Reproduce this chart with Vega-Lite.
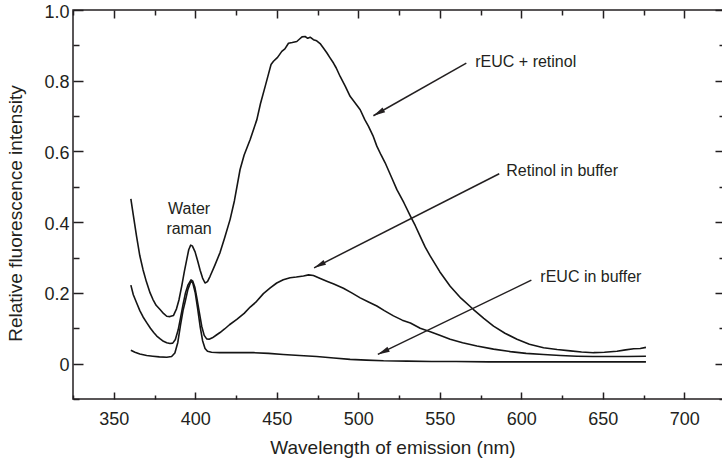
{
  "$schema": "https://vega.github.io/schema/vega-lite/v6.json",
  "width": 652,
  "height": 389,
  "autosize": {"type": "none"},
  "padding": {"left": 73, "top": 10, "right": 0, "bottom": 64},
  "background": "white",
  "config": {
    "font": "Liberation Sans",
    "view": {"stroke": "#231f20", "strokeWidth": 1.5},
    "axis": {
      "domain": false,
      "grid": false,
      "tickColor": "#231f20",
      "tickWidth": 1.5,
      "labelColor": "#231f20",
      "labelFontSize": 18,
      "labelOverlap": false,
      "titleColor": "#231f20",
      "titleFontSize": 19,
      "titleFontWeight": "normal"
    }
  },
  "datasets": {
    "spectra": [
      {"s": "rEUC + retinol", "nm": 360.5, "v": 0.466},
      {"s": "rEUC + retinol", "nm": 362, "v": 0.42},
      {"s": "rEUC + retinol", "nm": 364, "v": 0.36},
      {"s": "rEUC + retinol", "nm": 366, "v": 0.305},
      {"s": "rEUC + retinol", "nm": 368, "v": 0.265},
      {"s": "rEUC + retinol", "nm": 370, "v": 0.232},
      {"s": "rEUC + retinol", "nm": 372.3, "v": 0.2},
      {"s": "rEUC + retinol", "nm": 374, "v": 0.182},
      {"s": "rEUC + retinol", "nm": 376, "v": 0.165},
      {"s": "rEUC + retinol", "nm": 378.4, "v": 0.153},
      {"s": "rEUC + retinol", "nm": 380.5, "v": 0.142},
      {"s": "rEUC + retinol", "nm": 382.5, "v": 0.134},
      {"s": "rEUC + retinol", "nm": 384.5, "v": 0.133},
      {"s": "rEUC + retinol", "nm": 386.6, "v": 0.136},
      {"s": "rEUC + retinol", "nm": 388.5, "v": 0.155},
      {"s": "rEUC + retinol", "nm": 390, "v": 0.18},
      {"s": "rEUC + retinol", "nm": 391.7, "v": 0.219},
      {"s": "rEUC + retinol", "nm": 393.3, "v": 0.26},
      {"s": "rEUC + retinol", "nm": 394.8, "v": 0.295},
      {"s": "rEUC + retinol", "nm": 396, "v": 0.322},
      {"s": "rEUC + retinol", "nm": 397.2, "v": 0.335},
      {"s": "rEUC + retinol", "nm": 398.2, "v": 0.333},
      {"s": "rEUC + retinol", "nm": 399.9, "v": 0.316},
      {"s": "rEUC + retinol", "nm": 401.5, "v": 0.29},
      {"s": "rEUC + retinol", "nm": 403, "v": 0.264},
      {"s": "rEUC + retinol", "nm": 404.5, "v": 0.242},
      {"s": "rEUC + retinol", "nm": 406, "v": 0.228},
      {"s": "rEUC + retinol", "nm": 407.5, "v": 0.232},
      {"s": "rEUC + retinol", "nm": 409.1, "v": 0.247},
      {"s": "rEUC + retinol", "nm": 412, "v": 0.278},
      {"s": "rEUC + retinol", "nm": 415.2, "v": 0.314},
      {"s": "rEUC + retinol", "nm": 418, "v": 0.355},
      {"s": "rEUC + retinol", "nm": 421.4, "v": 0.408},
      {"s": "rEUC + retinol", "nm": 424, "v": 0.46},
      {"s": "rEUC + retinol", "nm": 427.5, "v": 0.549},
      {"s": "rEUC + retinol", "nm": 430, "v": 0.59},
      {"s": "rEUC + retinol", "nm": 433.7, "v": 0.634},
      {"s": "rEUC + retinol", "nm": 437.8, "v": 0.69},
      {"s": "rEUC + retinol", "nm": 440, "v": 0.735},
      {"s": "rEUC + retinol", "nm": 442.9, "v": 0.784},
      {"s": "rEUC + retinol", "nm": 445, "v": 0.82},
      {"s": "rEUC + retinol", "nm": 446.5, "v": 0.846},
      {"s": "rEUC + retinol", "nm": 448, "v": 0.855},
      {"s": "rEUC + retinol", "nm": 450.5, "v": 0.866},
      {"s": "rEUC + retinol", "nm": 453.1, "v": 0.883},
      {"s": "rEUC + retinol", "nm": 455, "v": 0.89},
      {"s": "rEUC + retinol", "nm": 457.2, "v": 0.906},
      {"s": "rEUC + retinol", "nm": 459.5, "v": 0.908},
      {"s": "rEUC + retinol", "nm": 462.3, "v": 0.911},
      {"s": "rEUC + retinol", "nm": 464, "v": 0.918},
      {"s": "rEUC + retinol", "nm": 465.5, "v": 0.924},
      {"s": "rEUC + retinol", "nm": 467.4, "v": 0.925},
      {"s": "rEUC + retinol", "nm": 469, "v": 0.92},
      {"s": "rEUC + retinol", "nm": 470.5, "v": 0.923},
      {"s": "rEUC + retinol", "nm": 472.5, "v": 0.916},
      {"s": "rEUC + retinol", "nm": 474.5, "v": 0.913},
      {"s": "rEUC + retinol", "nm": 476.6, "v": 0.905},
      {"s": "rEUC + retinol", "nm": 478.5, "v": 0.893},
      {"s": "rEUC + retinol", "nm": 480.7, "v": 0.879},
      {"s": "rEUC + retinol", "nm": 482.5, "v": 0.866},
      {"s": "rEUC + retinol", "nm": 484.8, "v": 0.85},
      {"s": "rEUC + retinol", "nm": 486.5, "v": 0.836},
      {"s": "rEUC + retinol", "nm": 488.9, "v": 0.812},
      {"s": "rEUC + retinol", "nm": 492, "v": 0.785},
      {"s": "rEUC + retinol", "nm": 495, "v": 0.756},
      {"s": "rEUC + retinol", "nm": 498, "v": 0.738},
      {"s": "rEUC + retinol", "nm": 501.2, "v": 0.718},
      {"s": "rEUC + retinol", "nm": 504, "v": 0.69},
      {"s": "rEUC + retinol", "nm": 506.3, "v": 0.671},
      {"s": "rEUC + retinol", "nm": 509, "v": 0.645},
      {"s": "rEUC + retinol", "nm": 511.4, "v": 0.615},
      {"s": "rEUC + retinol", "nm": 514, "v": 0.59},
      {"s": "rEUC + retinol", "nm": 516.5, "v": 0.568},
      {"s": "rEUC + retinol", "nm": 520.6, "v": 0.525},
      {"s": "rEUC + retinol", "nm": 523.7, "v": 0.492},
      {"s": "rEUC + retinol", "nm": 528, "v": 0.455},
      {"s": "rEUC + retinol", "nm": 532, "v": 0.417},
      {"s": "rEUC + retinol", "nm": 535, "v": 0.39},
      {"s": "rEUC + retinol", "nm": 538, "v": 0.36},
      {"s": "rEUC + retinol", "nm": 541, "v": 0.33},
      {"s": "rEUC + retinol", "nm": 544.2, "v": 0.304},
      {"s": "rEUC + retinol", "nm": 550, "v": 0.26},
      {"s": "rEUC + retinol", "nm": 556.4, "v": 0.219},
      {"s": "rEUC + retinol", "nm": 563, "v": 0.185},
      {"s": "rEUC + retinol", "nm": 570.7, "v": 0.153},
      {"s": "rEUC + retinol", "nm": 577, "v": 0.128},
      {"s": "rEUC + retinol", "nm": 583, "v": 0.106},
      {"s": "rEUC + retinol", "nm": 590, "v": 0.086},
      {"s": "rEUC + retinol", "nm": 597.4, "v": 0.069},
      {"s": "rEUC + retinol", "nm": 605, "v": 0.055},
      {"s": "rEUC + retinol", "nm": 613.7, "v": 0.045},
      {"s": "rEUC + retinol", "nm": 622, "v": 0.04},
      {"s": "rEUC + retinol", "nm": 630.1, "v": 0.036},
      {"s": "rEUC + retinol", "nm": 637, "v": 0.033},
      {"s": "rEUC + retinol", "nm": 644.4, "v": 0.031},
      {"s": "rEUC + retinol", "nm": 651, "v": 0.032},
      {"s": "rEUC + retinol", "nm": 658.7, "v": 0.035},
      {"s": "rEUC + retinol", "nm": 664, "v": 0.039},
      {"s": "rEUC + retinol", "nm": 669, "v": 0.042},
      {"s": "rEUC + retinol", "nm": 673, "v": 0.043},
      {"s": "rEUC + retinol", "nm": 676.5, "v": 0.046},

      {"s": "Retinol in buffer", "nm": 360.5, "v": 0.222},
      {"s": "Retinol in buffer", "nm": 362, "v": 0.195},
      {"s": "Retinol in buffer", "nm": 364, "v": 0.172},
      {"s": "Retinol in buffer", "nm": 366, "v": 0.15},
      {"s": "Retinol in buffer", "nm": 368, "v": 0.132},
      {"s": "Retinol in buffer", "nm": 370.2, "v": 0.116},
      {"s": "Retinol in buffer", "nm": 372.5, "v": 0.1},
      {"s": "Retinol in buffer", "nm": 374.5, "v": 0.088},
      {"s": "Retinol in buffer", "nm": 376.4, "v": 0.078},
      {"s": "Retinol in buffer", "nm": 378.5, "v": 0.07},
      {"s": "Retinol in buffer", "nm": 380.5, "v": 0.063},
      {"s": "Retinol in buffer", "nm": 382.5, "v": 0.059},
      {"s": "Retinol in buffer", "nm": 384.5, "v": 0.057},
      {"s": "Retinol in buffer", "nm": 386.2, "v": 0.058},
      {"s": "Retinol in buffer", "nm": 387.8, "v": 0.068},
      {"s": "Retinol in buffer", "nm": 389.5, "v": 0.095},
      {"s": "Retinol in buffer", "nm": 391, "v": 0.13},
      {"s": "Retinol in buffer", "nm": 392.5, "v": 0.167},
      {"s": "Retinol in buffer", "nm": 394, "v": 0.2},
      {"s": "Retinol in buffer", "nm": 395.5, "v": 0.222},
      {"s": "Retinol in buffer", "nm": 397.4, "v": 0.237},
      {"s": "Retinol in buffer", "nm": 398.5, "v": 0.233},
      {"s": "Retinol in buffer", "nm": 399.8, "v": 0.215},
      {"s": "Retinol in buffer", "nm": 401, "v": 0.185},
      {"s": "Retinol in buffer", "nm": 402.5, "v": 0.145},
      {"s": "Retinol in buffer", "nm": 404, "v": 0.105},
      {"s": "Retinol in buffer", "nm": 405.5, "v": 0.08},
      {"s": "Retinol in buffer", "nm": 407, "v": 0.07},
      {"s": "Retinol in buffer", "nm": 408.5, "v": 0.069},
      {"s": "Retinol in buffer", "nm": 410.5, "v": 0.073},
      {"s": "Retinol in buffer", "nm": 413, "v": 0.081},
      {"s": "Retinol in buffer", "nm": 415.2, "v": 0.088},
      {"s": "Retinol in buffer", "nm": 418, "v": 0.098},
      {"s": "Retinol in buffer", "nm": 421, "v": 0.11},
      {"s": "Retinol in buffer", "nm": 425.5, "v": 0.125},
      {"s": "Retinol in buffer", "nm": 430, "v": 0.142},
      {"s": "Retinol in buffer", "nm": 433.7, "v": 0.16},
      {"s": "Retinol in buffer", "nm": 437, "v": 0.173},
      {"s": "Retinol in buffer", "nm": 441.8, "v": 0.198},
      {"s": "Retinol in buffer", "nm": 446, "v": 0.214},
      {"s": "Retinol in buffer", "nm": 450, "v": 0.228},
      {"s": "Retinol in buffer", "nm": 454, "v": 0.237},
      {"s": "Retinol in buffer", "nm": 458.2, "v": 0.243},
      {"s": "Retinol in buffer", "nm": 462, "v": 0.245},
      {"s": "Retinol in buffer", "nm": 466.4, "v": 0.248},
      {"s": "Retinol in buffer", "nm": 469.5, "v": 0.251},
      {"s": "Retinol in buffer", "nm": 472.5, "v": 0.249},
      {"s": "Retinol in buffer", "nm": 476, "v": 0.242},
      {"s": "Retinol in buffer", "nm": 480.7, "v": 0.233},
      {"s": "Retinol in buffer", "nm": 485, "v": 0.225},
      {"s": "Retinol in buffer", "nm": 490.9, "v": 0.213},
      {"s": "Retinol in buffer", "nm": 496, "v": 0.2},
      {"s": "Retinol in buffer", "nm": 501.2, "v": 0.186},
      {"s": "Retinol in buffer", "nm": 506, "v": 0.175},
      {"s": "Retinol in buffer", "nm": 511.4, "v": 0.163},
      {"s": "Retinol in buffer", "nm": 516, "v": 0.15},
      {"s": "Retinol in buffer", "nm": 521.6, "v": 0.135},
      {"s": "Retinol in buffer", "nm": 527, "v": 0.123},
      {"s": "Retinol in buffer", "nm": 532, "v": 0.115},
      {"s": "Retinol in buffer", "nm": 538, "v": 0.1},
      {"s": "Retinol in buffer", "nm": 544.2, "v": 0.09},
      {"s": "Retinol in buffer", "nm": 550, "v": 0.08},
      {"s": "Retinol in buffer", "nm": 556.4, "v": 0.069},
      {"s": "Retinol in buffer", "nm": 564, "v": 0.059},
      {"s": "Retinol in buffer", "nm": 572.8, "v": 0.05},
      {"s": "Retinol in buffer", "nm": 583, "v": 0.041},
      {"s": "Retinol in buffer", "nm": 593.3, "v": 0.034},
      {"s": "Retinol in buffer", "nm": 603, "v": 0.029},
      {"s": "Retinol in buffer", "nm": 613.7, "v": 0.026},
      {"s": "Retinol in buffer", "nm": 624, "v": 0.023},
      {"s": "Retinol in buffer", "nm": 634.2, "v": 0.021},
      {"s": "Retinol in buffer", "nm": 644, "v": 0.02},
      {"s": "Retinol in buffer", "nm": 654.6, "v": 0.02},
      {"s": "Retinol in buffer", "nm": 665, "v": 0.02},
      {"s": "Retinol in buffer", "nm": 676.5, "v": 0.021},

      {"s": "rEUC in buffer", "nm": 360.5, "v": 0.038},
      {"s": "rEUC in buffer", "nm": 363, "v": 0.032},
      {"s": "rEUC in buffer", "nm": 366, "v": 0.027},
      {"s": "rEUC in buffer", "nm": 370.2, "v": 0.023},
      {"s": "rEUC in buffer", "nm": 374, "v": 0.021},
      {"s": "rEUC in buffer", "nm": 378, "v": 0.019},
      {"s": "rEUC in buffer", "nm": 382.5, "v": 0.018},
      {"s": "rEUC in buffer", "nm": 385.5, "v": 0.02},
      {"s": "rEUC in buffer", "nm": 387.5, "v": 0.03},
      {"s": "rEUC in buffer", "nm": 389.3, "v": 0.06},
      {"s": "rEUC in buffer", "nm": 391, "v": 0.11},
      {"s": "rEUC in buffer", "nm": 392.5, "v": 0.15},
      {"s": "rEUC in buffer", "nm": 393.8, "v": 0.175},
      {"s": "rEUC in buffer", "nm": 395.5, "v": 0.21},
      {"s": "rEUC in buffer", "nm": 397.4, "v": 0.234},
      {"s": "rEUC in buffer", "nm": 398.5, "v": 0.228},
      {"s": "rEUC in buffer", "nm": 400, "v": 0.2},
      {"s": "rEUC in buffer", "nm": 401.5, "v": 0.155},
      {"s": "rEUC in buffer", "nm": 403, "v": 0.105},
      {"s": "rEUC in buffer", "nm": 404.5, "v": 0.065},
      {"s": "rEUC in buffer", "nm": 406, "v": 0.043},
      {"s": "rEUC in buffer", "nm": 407.5, "v": 0.035},
      {"s": "rEUC in buffer", "nm": 410, "v": 0.032},
      {"s": "rEUC in buffer", "nm": 415, "v": 0.031},
      {"s": "rEUC in buffer", "nm": 425, "v": 0.031},
      {"s": "rEUC in buffer", "nm": 435.7, "v": 0.031},
      {"s": "rEUC in buffer", "nm": 445, "v": 0.029},
      {"s": "rEUC in buffer", "nm": 454, "v": 0.026},
      {"s": "rEUC in buffer", "nm": 464, "v": 0.023},
      {"s": "rEUC in buffer", "nm": 474.5, "v": 0.02},
      {"s": "rEUC in buffer", "nm": 485, "v": 0.016},
      {"s": "rEUC in buffer", "nm": 495, "v": 0.012},
      {"s": "rEUC in buffer", "nm": 505, "v": 0.01},
      {"s": "rEUC in buffer", "nm": 515.5, "v": 0.008},
      {"s": "rEUC in buffer", "nm": 530, "v": 0.007},
      {"s": "rEUC in buffer", "nm": 545, "v": 0.006},
      {"s": "rEUC in buffer", "nm": 560, "v": 0.006},
      {"s": "rEUC in buffer", "nm": 580, "v": 0.005},
      {"s": "rEUC in buffer", "nm": 600, "v": 0.005},
      {"s": "rEUC in buffer", "nm": 620, "v": 0.005},
      {"s": "rEUC in buffer", "nm": 640, "v": 0.005},
      {"s": "rEUC in buffer", "nm": 660, "v": 0.005},
      {"s": "rEUC in buffer", "nm": 676.5, "v": 0.005}
    ],
    "arrows": [
      {"s": "rEUC + retinol", "nm": 566.3, "v": 0.85, "nm2": 509.3, "v2": 0.701},
      {"s": "Retinol in buffer", "nm": 586.5, "v": 0.537, "nm2": 472.9, "v2": 0.271},
      {"s": "rEUC in buffer", "nm": 606.2, "v": 0.236, "nm2": 512.0, "v2": 0.026}
    ],
    "labels": [
      {"label": "rEUC + retinol", "nm": 571.8, "v": 0.853},
      {"label": "Retinol in buffer", "nm": 590.8, "v": 0.544},
      {"label": "rEUC in buffer", "nm": 611.7, "v": 0.246}
    ],
    "peakNote": [
      {"label": "Water", "nm": 396.2, "v": 0.436},
      {"label": "raman", "nm": 396.2, "v": 0.382}
    ]
  },
  "resolve": {"axis": {"x": "independent", "y": "independent"}},
  "layer": [
    {
      "data": {"name": "spectra"},
      "mark": {"type": "line", "color": "#151515", "strokeWidth": 1.6, "strokeJoin": "round"},
      "encoding": {
        "x": {
          "field": "nm",
          "type": "quantitative",
          "scale": {"domain": [325, 725], "nice": false, "zero": false},
          "axis": {
            "orient": "bottom",
            "title": "Wavelength of emission (nm)",
            "values": [325, 350, 375, 400, 425, 450, 475, 500, 525, 550, 575, 600, 625, 650, 675, 700, 725],
            "labelExpr": "datum.value % 50 === 0 && datum.value > 325 && datum.value < 725 ? datum.label : ''",
            "labelFlush": false,
            "tickSize": {"condition": {"test": "datum.value % 50 === 0", "value": -7}, "value": -4},
            "labelPadding": 18,
            "titlePadding": 7,
            "titleX": 319.5
          }
        },
        "y": {
          "field": "v",
          "type": "quantitative",
          "scale": {"domain": [-0.1, 1.0], "nice": false, "zero": false},
          "axis": {
            "orient": "left",
            "title": "Relative fluorescence intensity",
            "values": [-0.1, 0, 0.1, 0.2, 0.3, 0.4, 0.5, 0.6, 0.7, 0.8, 0.9, 1.0],
            "labelExpr": "round(datum.value * 10) % 2 === 0 ? (datum.value === 0 ? '0' : format(datum.value, '.1f')) : ''",
            "labelFlush": false,
            "labelOffset": 2,
            "tickSize": {"condition": {"test": "round(datum.value * 10) % 2 === 0", "value": -10}, "value": -6},
            "labelPadding": 14,
            "titlePadding": 18,
            "titleY": 203
          }
        },
        "detail": {"field": "s"}
      }
    },
    {
      "data": {"name": "arrows"},
      "mark": {"type": "rule", "color": "#231f20", "strokeWidth": 1.5},
      "encoding": {
        "x": {
          "field": "nm",
          "type": "quantitative",
          "axis": {
            "orient": "top",
            "title": null,
            "labels": false,
            "values": [325, 350, 375, 400, 425, 450, 475, 500, 525, 550, 575, 600, 625, 650, 675, 700, 725],
            "tickSize": {"condition": {"test": "datum.value % 50 === 0", "value": -8}, "value": -5}
          }
        },
        "y": {
          "field": "v",
          "type": "quantitative",
          "axis": {
            "orient": "right",
            "title": null,
            "labels": false,
            "values": [-0.1, 0, 0.1, 0.2, 0.3, 0.4, 0.5, 0.6, 0.7, 0.8, 0.9, 1.0],
            "tickSize": {"condition": {"test": "round(datum.value * 10) % 2 === 0", "value": -10}, "value": -6}
          }
        },
        "x2": {"field": "nm2"},
        "y2": {"field": "v2"}
      }
    },
    {
      "data": {"name": "arrows"},
      "transform": [{"filter": "datum.s === 'rEUC + retinol'"}],
      "mark": {"type": "point", "shape": "M0,0L-2,-0.45L-2,0.45Z", "filled": true, "opacity": 1, "size": 144, "angle": 150.4, "color": "#231f20"},
      "encoding": {
        "x": {"field": "nm2", "type": "quantitative", "axis": null},
        "y": {"field": "v2", "type": "quantitative", "axis": null}
      }
    },
    {
      "data": {"name": "arrows"},
      "transform": [{"filter": "datum.s === 'Retinol in buffer'"}],
      "mark": {"type": "point", "shape": "M0,0L-2,-0.45L-2,0.45Z", "filled": true, "opacity": 1, "size": 144, "angle": 153.1, "color": "#231f20"},
      "encoding": {
        "x": {"field": "nm2", "type": "quantitative", "axis": null},
        "y": {"field": "v2", "type": "quantitative", "axis": null}
      }
    },
    {
      "data": {"name": "arrows"},
      "transform": [{"filter": "datum.s === 'rEUC in buffer'"}],
      "mark": {"type": "point", "shape": "M0,0L-2,-0.45L-2,0.45Z", "filled": true, "opacity": 1, "size": 144, "angle": 154.1, "color": "#231f20"},
      "encoding": {
        "x": {"field": "nm2", "type": "quantitative", "axis": null},
        "y": {"field": "v2", "type": "quantitative", "axis": null}
      }
    },
    {
      "data": {"name": "labels"},
      "mark": {"type": "text", "align": "left", "baseline": "middle", "fontSize": 16, "color": "#231f20"},
      "encoding": {
        "x": {"field": "nm", "type": "quantitative", "axis": null},
        "y": {"field": "v", "type": "quantitative", "axis": null},
        "text": {"field": "label"}
      }
    },
    {
      "data": {"name": "peakNote"},
      "mark": {"type": "text", "align": "center", "baseline": "middle", "fontSize": 16, "color": "#231f20"},
      "encoding": {
        "x": {"field": "nm", "type": "quantitative", "axis": null},
        "y": {"field": "v", "type": "quantitative", "axis": null},
        "text": {"field": "label"}
      }
    }
  ]
}
